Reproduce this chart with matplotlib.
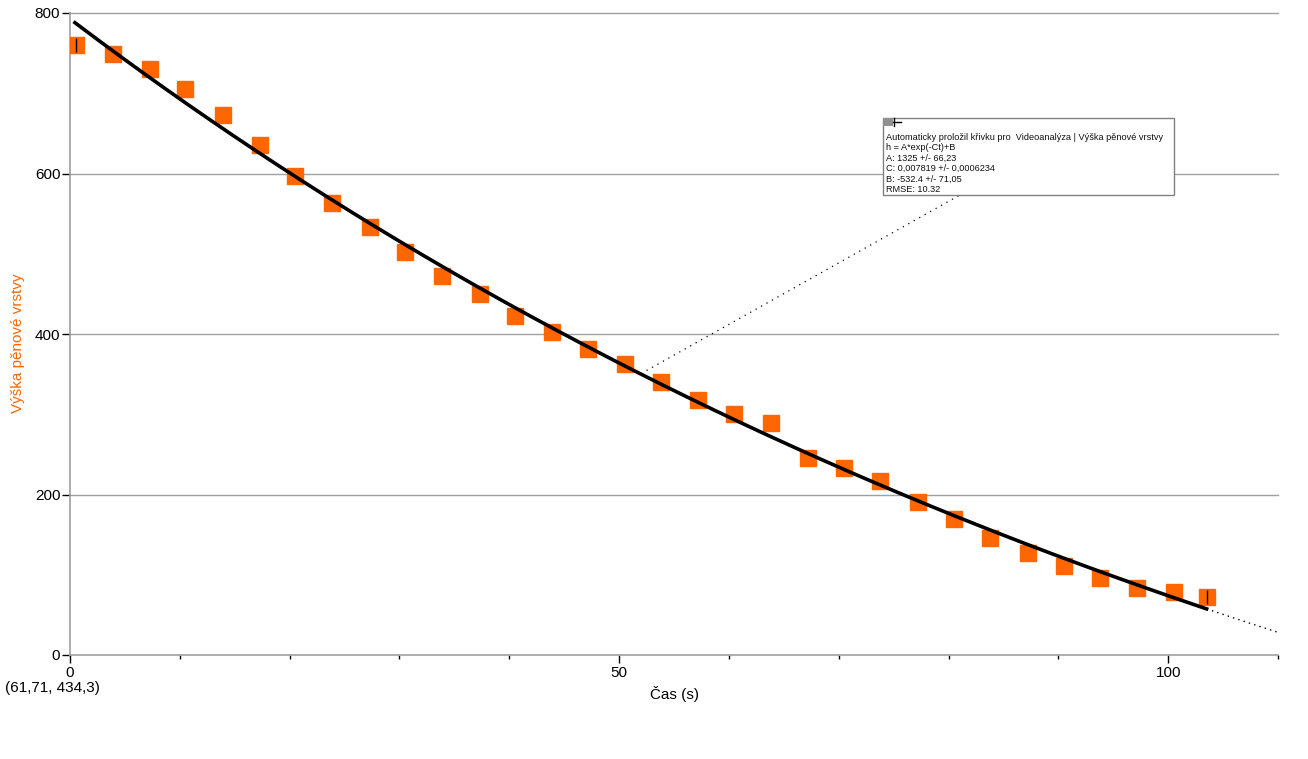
import numpy as np
import matplotlib
matplotlib.use("Agg")
import matplotlib.pyplot as plt
from matplotlib.ticker import MultipleLocator

plt.rcParams['font.family'] = ['Liberation Sans', 'DejaVu Sans']

# Measured data
t = [0.55, 3.9, 7.3, 10.5, 13.9, 17.3, 20.5, 23.9, 27.3, 30.5, 33.9, 37.3,
     40.5, 43.9, 47.2, 50.5, 53.8, 57.2, 60.5, 63.8, 67.2, 70.5, 73.8, 77.2,
     80.5, 83.8, 87.2, 90.5, 93.8, 97.2, 100.5, 103.5]
h = [760, 749, 730, 705, 673, 636, 597, 563, 533, 502, 472, 450,
     422, 402, 381, 363, 340, 318, 300, 289, 245, 233, 217, 191,
     169, 146, 127, 111, 96, 83, 78, 72]

# Fit parameters (h = A*exp(-C t) + B)
A_fit = 1325
C_fit = 0.007819
B_fit = -532.4

x_ticks = [0, 50, 100]
y_ticks = [0, 200, 400, 600, 800]

fit_lines = ["Automaticky proložil křivku pro  Videoanalýza | Výška pěnové vrstvy",
             "h = A*exp(-Ct)+B",
             "A: 1325 +/- 66,23",
             "C: 0,007819 +/- 0,0006234",
             "B: -532.4 +/- 71,05",
             "RMSE: 10.32"]

orange = '#ff6600'
gray = '#a0a0a0'

fig = plt.figure(figsize=(13.08, 7.59), dpi=100)
ax = fig.add_axes([70/1308, 1-655/759, (1278-70)/1308, (655-13)/759])

ax.set_xlim(0, 110)
ax.set_ylim(0, 800)

# gridlines
for yv in y_ticks[1:]:
    ax.axhline(yv, color=gray, lw=1, zorder=0, clip_on=False)

# data points
ax.plot(t, h, 's', color=orange, markersize=11.5, zorder=3)
# error bars on first and last points
ax.errorbar([t[0], t[-1]], [h[0], h[-1]], yerr=9, fmt='none', ecolor='black',
            elinewidth=1, capsize=0, zorder=4)

# fit curve
tf = np.linspace(t[0] - 0.1, t[-1], 300)
ax.plot(tf, A_fit*np.exp(-C_fit*tf) + B_fit, color='black', lw=2.6, zorder=5)
td = np.linspace(t[-1], 110, 100)
ax.plot(td, A_fit*np.exp(-C_fit*td) + B_fit, color='black', lw=1, ls=(0, (1, 3)), zorder=5)

# annotation pointer
t_ptr = 52.5
ax.plot([t_ptr, 81.4], [A_fit*np.exp(-C_fit*t_ptr) + B_fit + 8, 576], color='black',
        lw=0.9, ls=(0, (1, 4)), zorder=5)

# spines
for s in ['top', 'right']:
    ax.spines[s].set_visible(False)
for s in ['left', 'bottom']:
    ax.spines[s].set_color(gray)
    ax.spines[s].set_linewidth(1.2)

ax.set_xticks(x_ticks)
ax.set_yticks(y_ticks)
ax.xaxis.set_minor_locator(MultipleLocator(10))
ax.tick_params(axis='x', which='major', length=6, width=1, color='black',
               labelsize=11, pad=2)
ax.tick_params(axis='x', which='minor', length=3, width=1, color='black')
ax.tick_params(axis='y', which='major', length=6, width=1, color='black',
               labelsize=11, pad=1)

ax.set_xlabel("Čas (s)", fontsize=11, labelpad=4)
ax.set_ylabel("Výška pěnové vrstvy", fontsize=11, color=orange)
ax.yaxis.set_label_coords((25-70)/1208, 0.485)

fig.text(5/1308, 1-688/759, "(61,71, 434,3)", fontsize=11, va='center', ha='left')

# fit info box
bx0, by0, bx1, by1 = 883, 118, 1174, 195
box = plt.Rectangle((bx0/1308, 1-by1/759), (bx1-bx0)/1308, (by1-by0)/759,
                    transform=fig.transFigure, facecolor='white', edgecolor='#808080',
                    lw=1, zorder=10)
fig.patches.append(box)
icon = plt.Rectangle((883/1308, 1-126/759), 10/1308, 8/759, transform=fig.transFigure,
                     facecolor='#909090', edgecolor='none', zorder=11)
fig.patches.append(icon)
fig.lines.append(plt.Line2D([893/1308, 901/1308], [1-122/759, 1-122/759],
                            transform=fig.transFigure, color='black', lw=1, zorder=12))
fig.lines.append(plt.Line2D([894/1308, 894/1308], [1-118/759, 1-126/759],
                            transform=fig.transFigure, color='black', lw=1, zorder=12))
for i, line in enumerate(fit_lines):
    fig.text(886/1308, 1-(137 + i*10.5)/759, line, fontsize=6.6, va='center', ha='left',
             zorder=12, color='#101010')

fig.savefig("out.png", dpi=100)
